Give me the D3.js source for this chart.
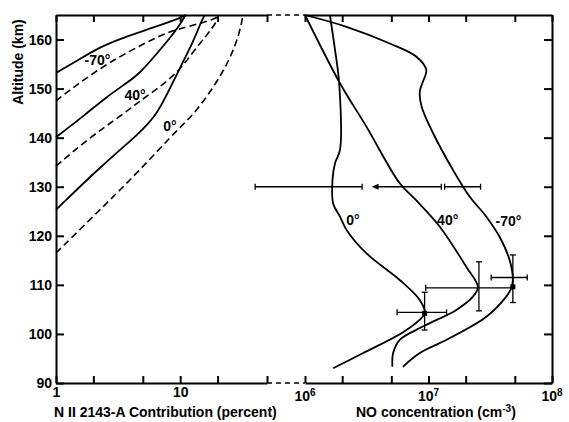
<!DOCTYPE html>
<html>
<head>
<meta charset="utf-8">
<script src="https://cdn.jsdelivr.net/npm/d3@7"></script>
<style>
  html, body { margin: 0; padding: 0; background: #fff; }
  svg { display: block; font-family: "Liberation Sans", Arial, sans-serif; }
  text { fill: #000; }
</style>
</head>
<body>
<svg id="chart" width="569" height="422"></svg>
<script>
// ---------- DATA ----------
// Left panel: N II 2143-A contribution (percent) vs altitude (km): [percent, altitude]
const contribSolidM70 = [[1,153.2],[1.42,155.4],[2.18,158.3],[3.40,160.3],[6.27,162.55],[10.5,164.6],[11.1,165]];
const contribDashM70  = [[1,147.5],[1.42,150.5],[2.48,154.8],[4.09,157.9],[6.27,160.3],[8.74,161.9],[16.4,163.6],[20.1,164.6]];
const contribSolid40  = [[1,140.1],[1.71,144.6],[2.48,148.1],[3.80,151.3],[4.74,153.2],[6.04,156.2],[8.27,160.3],[9.96,163.0],[10.9,164.8],[11.1,165]];
const contribDash40   = [[1,134.2],[1.88,140.1],[3.40,144.6],[4.74,147.5],[6.87,150.3],[9.96,153.8],[12.7,157.5],[16.4,160.9],[19.7,163.6],[20.1,164.6]];
const contribSolid0   = [[1,125.3],[2.26,134.0],[4.74,141.0],[6.49,144.6],[8.74,151.3],[10.5,155.4],[12.7,159.5],[15.2,164.4],[15.8,165]];
const contribDash0    = [[1,116.5],[2.72,127.3],[4.74,133.4],[9.96,142.2],[12.7,144.6],[18.4,150.1],[23.7,154.8],[28.6,159.5],[31.4,163.6],[32.0,165]];
const contribLabels = [["-70°",2.16,155.8],["40°",4.33,148.7],["0°",8.28,142.4]]; // [text, percent, altitude]

// Right panel: NO concentration (cm^-3) vs altitude (km): [concentration, altitude]
const noM70 = [[1e6,165],[2.17e6,162.6],[4.86e6,159.2],[7.99e6,156.5],[9.6e6,153.8],[9.0e6,151.4],[8.5e6,149.4],[8.8e6,146.3],[1.09e7,140.9],[1.58e7,133.4],[2.15e7,128.0],[2.94e7,123.9],[3.76e7,119.8],[4.53e7,115.1],[4.82e7,111.0],[4.68e7,109.3],[4.26e7,107.6],[2.94e7,103.5],[1.40e7,98.8],[8.5e6,96.1],[6.2e6,93.3]];
const no40  = [[1e6,165],[1.92e6,151.1],[3.15e6,142.2],[5.85e6,130.7],[7.9e6,127.3],[1.23e7,121.9],[2.02e7,113.7],[2.51e7,109.6],[2.29e7,107.6],[1.68e7,104.9],[9.0e6,101.5],[5.85e6,98.8],[5.17e6,96.1],[5.1e6,93.3]];
const no0   = [[1.59e6,165],[1.75e6,157.9],[1.89e6,151.1],[1.92e6,137.5],[1.75e6,134.8],[1.67e6,131.4],[1.69e6,126.6],[1.92e6,123.9],[2.17e6,121.2],[3.15e6,116.4],[5.85e6,111.0],[8.5e6,106.9],[9.3e6,104.2],[6.63e6,100.8],[2.96e6,96.1],[1.69e6,93.0]];
const noLabels = [["0°",2.44e6,123.3],["40°",1.43e7,123.2],["-70°",4.44e7,123.0]];

// Rocket measurements (error bars)
const barNO     = [9.3e6, 2.56e7, 4.82e7];
const barAlt    = [104.4, 109.4, 111.5];
const barNOLo   = [5.57e6, 9.5e6, 3.22e7];
const barNOHi   = [1.40e7, 4.76e7, 6.3e7];
const barAltLo  = [100.8, 104.7, 106.4];
const barAltHi  = [108.5, 114.7, 116.1];
const dotPoints = [[9.3e6,104.2],[4.82e7,109.6]];
// 130 km measurements
const rangeAlt = 130;
const rangeBars = [[3.95e5, 2.9e6],[1.35e7, 2.64e7]];
const upperLimit = [1.27e7, 3.46e6]; // from -> arrow tip

// Axis ticks
const altTicks = [90,100,110,120,130,140,150,160];
const contribTicks = [1,2,5,10,20,50];
const contribTickLabels = {1:"1", 10:"10"};
const noTicks = [1e6,2e6,5e6,1e7,2e7,5e7,1e8];
const noTickExp = {1e6:"6", 1e7:"7", 1e8:"8"};

// ---------- SCALES ----------
const svg = d3.select("#chart");
const y  = d3.scaleLinear().domain([90,165]).range([383,15]);
const xL = d3.scaleLog().domain([1,50]).range([56,267]);
const xR = d3.scaleLog().domain([1e6,1e8]).range([305,552]);

const FS = 14;
const FW = "bold";

// ---------- AXES ----------
function styleAxis(g){
  g.selectAll(".domain").attr("stroke","#000").attr("stroke-width",2);
  g.selectAll(".tick line").attr("stroke","#000").attr("stroke-width",2);
  g.selectAll(".tick text").attr("font-size",FS).attr("font-weight",FW)
    .attr("font-family","Liberation Sans, Arial, sans-serif").attr("fill","#000");
}

svg.append("g").attr("transform","translate(56,0)")
  .call(d3.axisLeft(y).tickValues(altTicks).tickSize(-8).tickSizeOuter(0).tickPadding(4).tickFormat(d3.format("d")))
  .call(styleAxis);
svg.append("g").attr("transform","translate(552,0)")
  .call(d3.axisRight(y).tickValues(altTicks).tickSize(-8).tickSizeOuter(0).tickFormat(""))
  .call(styleAxis);

svg.append("g").attr("transform","translate(0,383)")
  .call(d3.axisBottom(xL).tickValues(contribTicks).tickSize(-7).tickSizeOuter(0).tickPadding(4)
        .tickFormat(d => contribTickLabels[d] || ""))
  .call(styleAxis);
svg.append("g").attr("transform","translate(0,383)")
  .call(d3.axisBottom(xR).tickValues(noTicks).tickSize(-7).tickSizeOuter(0).tickFormat(""))
  .call(styleAxis);
svg.append("g").attr("transform","translate(0,15)")
  .call(d3.axisTop(xL).tickValues(contribTicks).tickSize(-7).tickSizeOuter(0).tickFormat(""))
  .call(styleAxis);
svg.append("g").attr("transform","translate(0,15)")
  .call(d3.axisTop(xR).tickValues(noTicks).tickSize(-7).tickSizeOuter(0).tickFormat(""))
  .call(styleAxis);

// axis break (dashed)
[15,383].forEach(yy => {
  svg.append("line").attr("x1",xL(50)).attr("x2",xR(1e6)).attr("y1",yy).attr("y2",yy)
    .attr("stroke","#000").attr("stroke-width",1.6).attr("stroke-dasharray","5,4");
});

// power-of-ten labels
noTicks.filter(d => noTickExp[d]).forEach(d => {
  const t = svg.append("text").attr("x",xR(d)).attr("y",401).attr("text-anchor","middle")
    .attr("font-size",FS).attr("font-weight",FW);
  t.append("tspan").text("10");
  t.append("tspan").attr("dy",-5).attr("font-size",10).text(noTickExp[d]);
});

// axis titles
svg.append("text").attr("x",54).attr("y",417).attr("font-size",FS).attr("font-weight",FW)
  .text("N II 2143-A Contribution (percent)");
const nt = svg.append("text").attr("x",356).attr("y",417).attr("font-size",FS).attr("font-weight",FW);
nt.append("tspan").text("NO concentration (cm");
nt.append("tspan").attr("dy",-5).attr("font-size",10).text("-3");
nt.append("tspan").attr("dy",5).text(")");
svg.append("text").attr("transform","translate(23,62) rotate(-90)").attr("text-anchor","middle")
  .attr("font-size",FS).attr("font-weight",FW).text("Altitude (km)");

// ---------- CURVES ----------
const lineL = d3.line().x(d => xL(d[0])).y(d => y(d[1])).curve(d3.curveBasis);
const lineR = d3.line().x(d => xR(d[0])).y(d => y(d[1])).curve(d3.curveCatmullRom.alpha(0.5));

[contribSolidM70, contribSolid40, contribSolid0].forEach(s => {
  svg.append("path").attr("d",lineL(s)).attr("fill","none").attr("stroke","#000").attr("stroke-width",1.8);
});
[contribDashM70, contribDash40, contribDash0].forEach(s => {
  svg.append("path").attr("d",lineL(s)).attr("fill","none").attr("stroke","#000").attr("stroke-width",1.6)
    .attr("stroke-dasharray","7,4");
});
contribLabels.forEach(([t,v,a]) => {
  svg.append("text").attr("x",xL(v)).attr("y",y(a)).attr("dy","0.35em").attr("text-anchor","middle")
    .attr("font-size",FS).attr("font-weight",FW).text(t);
});

[noM70, no40, no0].forEach(s => {
  svg.append("path").attr("d",lineR(s)).attr("fill","none").attr("stroke","#000").attr("stroke-width",1.8);
});
noLabels.forEach(([t,v,a]) => {
  svg.append("text").attr("x",xR(v)).attr("y",y(a)).attr("dy","0.35em").attr("text-anchor","middle")
    .attr("font-size",FS).attr("font-weight",FW).text(t);
});

// ---------- ERROR BARS ----------
const eb = svg.append("g").attr("stroke","#000").attr("stroke-width",1.3).attr("fill","none");
function hbar(x1, x2, yy, capL=true, capR=true){
  eb.append("line").attr("x1",x1).attr("x2",x2).attr("y1",yy).attr("y2",yy);
  if (capL) eb.append("line").attr("x1",x1).attr("x2",x1).attr("y1",yy-3).attr("y2",yy+3);
  if (capR) eb.append("line").attr("x1",x2).attr("x2",x2).attr("y1",yy-3).attr("y2",yy+3);
}
function vbar(xx, y1, y2){
  eb.append("line").attr("x1",xx).attr("x2",xx).attr("y1",y1).attr("y2",y2);
  eb.append("line").attr("x1",xx-3).attr("x2",xx+3).attr("y1",y1).attr("y2",y1);
  eb.append("line").attr("x1",xx-3).attr("x2",xx+3).attr("y1",y2).attr("y2",y2);
}
barNO.forEach((v,i) => {
  hbar(xR(barNOLo[i]), xR(barNOHi[i]), y(barAlt[i]), true, i !== 1);
  vbar(xR(v), y(barAltLo[i]), y(barAltHi[i]));
});
dotPoints.forEach(([v,a]) => {
  svg.append("rect").attr("x",xR(v)-2.5).attr("y",y(a)-2.5).attr("width",5).attr("height",5).attr("fill","#000");
});
rangeBars.forEach(([a,b]) => hbar(xR(a), xR(b), y(rangeAlt)));
const ax1 = xR(upperLimit[0]), ax2 = xR(upperLimit[1]), ay = y(rangeAlt);
eb.append("line").attr("x1",ax1).attr("x2",ax2+4).attr("y1",ay).attr("y2",ay);
eb.append("line").attr("x1",ax1).attr("x2",ax1).attr("y1",ay-3).attr("y2",ay+3);
svg.append("path").attr("d",`M${ax2},${ay}L${ax2+7},${ay-3}L${ax2+7},${ay+3}Z`).attr("fill","#000");
</script>
</body>
</html>
